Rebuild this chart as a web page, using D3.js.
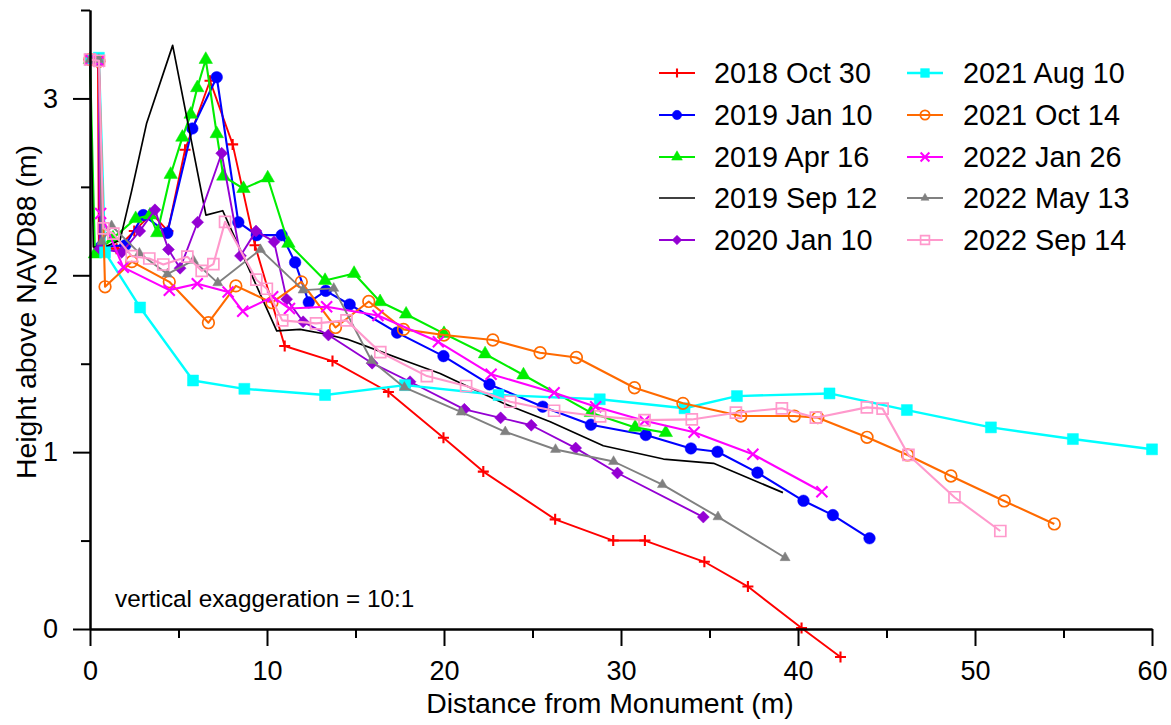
<!DOCTYPE html>
<html>
<head>
<meta charset="utf-8">
<script src="https://cdn.jsdelivr.net/npm/d3@7"></script>
<style>
  html, body { margin: 0; padding: 0; background: #fff; }
  svg { display: block; font-family: "Liberation Sans", Arial, sans-serif; }
</style>
</head>
<body>
<svg id="chart" width="1171" height="725"></svg>
<script>
// ---------------- DATA ----------------
const seriesNames = ["2018 Oct 30","2019 Jan 10","2019 Apr 16","2019 Sep 12","2020 Jan 10",
                     "2021 Aug 10","2021 Oct 14","2022 Jan 26","2022 May 13","2022 Sep 14"];

const oct2018 = [[0,3.22],[0.45,3.2],[0.5,2.16],[1.5,2.15],[2.5,2.25],[3.5,2.35],[4.4,2.25],[5.37,2.71],[6.78,3.10],
  [8.06,2.74],[9.32,2.17],[11.0,1.60],[13.7,1.515],[16.86,1.34],[19.97,1.081],[22.22,0.89],[26.28,0.62],
  [29.56,0.50],[31.35,0.50],[34.71,0.38],[37.17,0.24],[40.2,0.006],[42.4,-0.158]];

const jan2019 = [[0,3.22],[0.5,3.21],[0.6,2.16],[2.0,2.17],[3.01,2.34],[4.37,2.24],[5.78,2.83],[7.16,3.12],
  [8.38,2.30],[9.42,2.227],[10.83,2.227],[11.59,2.073],[12.36,1.847],[13.32,1.912],[14.67,1.835],[17.35,1.676],
  [19.97,1.543],[22.57,1.383],[25.58,1.257],[28.3,1.155],[31.4,1.097],[33.95,1.021],[35.45,1.002],[37.71,0.884],
  [40.31,0.725],[41.97,0.644],[44.04,0.513]];

const apr2019 = [[0,3.22],[0.28,2.12],[1.3,2.21],[2.58,2.32],[3.39,2.34],[3.8,2.24],[4.56,2.57],[5.22,2.78],
  [5.69,2.91],[6.06,3.06],[6.54,3.22],[7.16,2.80],[7.53,2.56],[8.67,2.49],[10.04,2.55],[11.21,2.18],[13.28,1.97],
  [14.92,2.01],[16.39,1.85],[17.86,1.78],[20.0,1.67],[22.32,1.555],[24.49,1.436],[28.3,1.223],[30.8,1.14],[32.53,1.11]];

const sep2019 = [[0,3.22],[0.19,2.16],[0.85,2.16],[1.7,2.2],[2.36,2.48],[3.2,2.86],[4.67,3.30],[6.55,2.34],
  [7.5,2.365],[10.55,1.686],[11.87,1.694],[13.28,1.668],[14.54,1.638],[16.2,1.577],[18.0,1.51],[19.78,1.445],
  [23.36,1.276],[26.0,1.172],[29.0,1.036],[32.4,0.961],[35.23,0.937],[39.15,0.771]];

const jan2020 = [[0,3.22],[0.5,3.21],[0.55,2.15],[1.79,2.13],[2.81,2.25],[3.67,2.37],[4.43,2.146],[5.09,2.04],
  [6.08,2.30],[7.44,2.69],[8.5,2.11],[9.38,2.25],[10.4,2.19],[11.11,1.865],[12.04,1.737],[13.47,1.662],
  [15.94,1.503],[18.08,1.398],[21.15,1.242],[23.2,1.194],[24.93,1.152],[27.44,1.023],[29.8,0.882],[34.65,0.633]];

const aug2021 = [[0,3.22],[0.5,3.23],[0.85,2.13],[2.83,1.818],[5.82,1.405],[8.72,1.358],[13.28,1.323],
  [17.8,1.379],[23.08,1.323],[28.8,1.299],[33.59,1.248],[36.55,1.317],[41.78,1.332],[46.15,1.238],
  [50.9,1.140],[55.53,1.074],[60.0,1.016]];

const oct2021 = [[0,3.22],[0.5,3.21],[0.85,1.935],[2.36,2.077],[4.48,1.963],[6.69,1.732],[8.24,1.94],
  [10.28,1.845],[11.94,1.963],[13.87,1.705],[15.75,1.852],[17.71,1.694],[20.0,1.662],[22.76,1.634],
  [25.43,1.562],[27.48,1.535],[30.76,1.364],[33.5,1.276],[36.77,1.204],[39.79,1.204],[41.12,1.195],
  [43.9,1.084],[46.19,0.984],[48.64,0.865],[51.65,0.724],[54.48,0.594]];

const jan2022 = [[0,3.22],[0.5,3.21],[0.6,2.35],[1.88,2.045],[4.48,1.916],[6.06,1.952],[7.8,1.905],
  [8.63,1.797],[10.32,1.878],[11.27,1.812],[13.37,1.822],[16.27,1.773],[19.68,1.624],[22.66,1.441],
  [26.22,1.336],[28.57,1.257],[31.33,1.178],[34.13,1.112],[37.45,0.988],[41.35,0.776]];

const may2022 = [[0,3.22],[0.5,3.22],[0.66,2.19],[1.22,2.28],[2.79,2.125],[4.37,2.007],[5.84,2.084],
  [7.22,1.957],[9.63,2.145],[12.04,1.916],[13.77,1.926],[15.9,1.518],[17.76,1.366],[20.98,1.226],
  [23.46,1.115],[26.3,1.015],[29.58,0.947],[32.34,0.816],[35.48,0.634],[39.27,0.403]];

const sep2022 = [[0,3.22],[0.51,3.213],[0.75,2.265],[1.32,2.236],[2.36,2.108],[3.35,2.095],[4.14,2.061],
  [5.5,2.105],[6.31,2.025],[6.97,2.063],[7.63,2.302],[9.4,1.975],[9.99,1.924],[10.86,1.745],[12.77,1.728],
  [14.49,1.745],[16.4,1.565],[19.03,1.43],[21.25,1.374],[23.74,1.285],[26.22,1.234],[28.82,1.202],
  [31.33,1.181],[34.0,1.185],[36.49,1.223],[39.09,1.248],[41.01,1.195],[43.89,1.253],[44.78,1.246],
  [46.24,0.984],[48.84,0.745],[51.43,0.554]];

const xMajorTicks = [0,10,20,30,40,50,60];
const xMinorTicks = [5,15,25,35,45,55];
const yMajorTicks = [0,1,2,3];
const yMinorTicks = [0.5,1.5,2.5,3.5];
const annotation = "vertical exaggeration = 10:1";
const xTitle = "Distance from Monument (m)";
const yTitle = "Height above NAVD88 (m)";

// ---------------- STYLE ----------------
const seriesData = [oct2018, jan2019, apr2019, sep2019, jan2020, aug2021, oct2021, jan2022, may2022, sep2022];
const colors  = ["#ff0000","#0000ff","#00ee00","#000000","#9400d3","#00ffff","#ff6a00","#ff00ff","#808080","#ff99cc"];
const markers = ["plus","circle","triangle","none","diamond","square","ocircle","x","smalltri","osquare"];
const widths  = [1.9,2.1,2.1,1.7,1.9,2.4,2.1,2.1,1.9,2.1];

const svg = d3.select("#chart");
svg.append("rect").attr("width",1171).attr("height",725).attr("fill","#fff");

const x = d3.scaleLinear().domain([0,60]).range([90,1152]);
const y = d3.scaleLinear().domain([0,3.5]).range([629,10]);

function markerPath(type, s) {
  const p = d3.path();
  switch (type) {
    case "plus": p.moveTo(-5.5*s,0); p.lineTo(5.5*s,0); p.moveTo(0,-5.5*s); p.lineTo(0,5.5*s); break;
    case "x": p.moveTo(-5.5*s,-5.5*s); p.lineTo(5.5*s,5.5*s); p.moveTo(-5.5*s,5.5*s); p.lineTo(5.5*s,-5.5*s); break;
    case "circle": case "ocircle": p.arc(0,0,5.8*s,0,2*Math.PI); p.closePath(); break;
    case "triangle": { const r=7.8*s; p.moveTo(0,-r); p.lineTo(r*0.866,r*0.5); p.lineTo(-r*0.866,r*0.5); p.closePath(); break; }
    case "smalltri": { const r=5.8*s; p.moveTo(0,-r); p.lineTo(r*0.866,r*0.5); p.lineTo(-r*0.866,r*0.5); p.closePath(); break; }
    case "diamond": { const r=6*s; p.moveTo(0,-r); p.lineTo(r,0); p.lineTo(0,r); p.lineTo(-r,0); p.closePath(); break; }
    case "square": case "osquare": { const h=5.5*s; p.rect(-h,-h,2*h,2*h); break; }
  }
  return p.toString();
}
function markerStyle(sel, type, color) {
  const open = (type === "ocircle" || type === "osquare");
  const stroked = (type === "plus" || type === "x");
  sel.attr("fill", (open || stroked) ? "none" : color)
     .attr("stroke", color)
     .attr("stroke-width", stroked ? 2.1 : (open ? 1.7 : 0.5));
}

const line = d3.line().x(d => x(d[0])).y(d => y(d[1]));
const plot = svg.append("g");

seriesData.forEach((data, i) => {
  const g = plot.append("g");
  g.append("path").datum(data).attr("d", line).attr("fill","none")
    .attr("stroke", colors[i]).attr("stroke-width", widths[i]).attr("stroke-linejoin","round");
  if (markers[i] !== "none") {
    g.selectAll("path.m").data(data).enter().append("path").attr("class","m")
      .attr("transform", d => `translate(${x(d[0])},${y(d[1])})`)
      .attr("d", markerPath(markers[i], 1))
      .call(markerStyle, markers[i], colors[i]);
  }
});

// ---------------- AXES ----------------
const axisFont = 27;
const xAxisMaj = d3.axisBottom(x).tickValues(xMajorTicks).tickSize(17).tickPadding(15).tickSizeOuter(0).tickFormat(d3.format("d"));
const xAxisMin = d3.axisBottom(x).tickValues(xMinorTicks).tickSize(9).tickSizeOuter(0).tickFormat("");
const yAxisMaj = d3.axisLeft(y).tickValues(yMajorTicks).tickSize(17).tickPadding(15).tickSizeOuter(0).tickFormat(d3.format("d"));
const yAxisMin = d3.axisLeft(y).tickValues(yMinorTicks).tickSize(9).tickSizeOuter(0).tickFormat("");

function styleAxis(g) {
  g.selectAll("path.domain").attr("stroke","#000").attr("stroke-width",2);
  g.selectAll(".tick line").attr("stroke","#000").attr("stroke-width",2);
  g.selectAll("text").attr("fill","#000").style("font-size", axisFont+"px")
    .style("font-family","'Liberation Sans', Arial, sans-serif");
}
svg.append("g").attr("transform","translate(0,629)").call(xAxisMin).call(styleAxis);
svg.append("g").attr("transform","translate(0,629)").call(xAxisMaj).call(styleAxis);
svg.append("g").attr("transform","translate(90,0)").call(yAxisMin).call(styleAxis);
svg.append("g").attr("transform","translate(90,0)").call(yAxisMaj).call(styleAxis);

svg.append("text").attr("x",610).attr("y",713).attr("text-anchor","middle")
  .style("font-size","28.4px").attr("fill","#000").text(xTitle);
svg.append("text").attr("transform","translate(36,312) rotate(-90)").attr("text-anchor","middle")
  .style("font-size","28.4px").attr("fill","#000").text(yTitle);

svg.append("text").attr("x",115).attr("y",607).style("font-size","24.3px").attr("fill","#000").text(annotation);

// ---------------- LEGEND ----------------
const legendCols = [{lx0:659, lx1:695, tx:714}, {lx0:907, lx1:943, tx:963}];
const legendRows = [73, 115, 157, 198, 240];
seriesNames.forEach((name, i) => {
  const col = legendCols[Math.floor(i/5)];
  const ry = legendRows[i%5];
  const g = svg.append("g");
  g.append("line").attr("x1",col.lx0).attr("x2",col.lx1).attr("y1",ry).attr("y2",ry)
    .attr("stroke",colors[i]).attr("stroke-width",widths[i]);
  if (markers[i] !== "none") {
    g.append("path").attr("transform",`translate(${(col.lx0+col.lx1)/2},${ry})`)
      .attr("d", markerPath(markers[i], 0.8)).call(markerStyle, markers[i], colors[i]);
  }
  g.append("text").attr("x",col.tx).attr("y",ry).attr("dy","0.35em")
    .style("font-size","28.8px").attr("fill","#000").text(name);
});
</script>
</body>
</html>
